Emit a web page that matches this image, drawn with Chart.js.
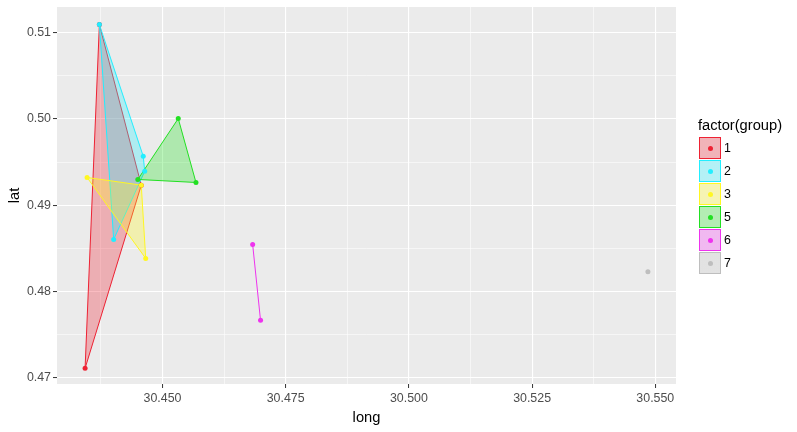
<!DOCTYPE html>
<html>
<head>
<meta charset="utf-8">
<script src="https://cdn.jsdelivr.net/npm/chart.js@4.4.1/dist/chart.umd.min.js"></script>
<style>
  html, body { margin: 0; padding: 0; background: #ffffff; }
  #wrap { position: relative; width: 797px; height: 432px; }
  #c { position: absolute; left: 0; top: 0; }
  .lg { position: absolute; font-family: 'Liberation Sans', Arial, sans-serif; color: #000; white-space: nowrap; }
  .key { position: absolute; box-sizing: border-box; width: 22px; height: 22px; border: 1px solid; }
  .dot { position: absolute; width: 5px; height: 5px; border-radius: 50%; left: 7.5px; top: 7.5px; }
</style>
</head>
<body>
<div id="wrap">
  <canvas id="c" width="797" height="432"></canvas>
  <div id="legend"></div>
</div>
<script>
// ---- data ----
const groups = ['1', '2', '3', '5', '6', '7'];
const groupColors = ['#EE2233', '#22EEFF', '#FFF722', '#22E022', '#EE33EE', '#BEBEBE'];

// polygon vertices per group, in path order (long = x, lat = y)
const long1 = [30.4372, 30.4343, 30.4457];
const lat1  = [0.51093, 0.47109, 0.49232];
const long2 = [30.4372, 30.4461, 30.4464, 30.4401];
const lat2  = [0.51093, 0.49567, 0.49393, 0.48603];
const long3 = [30.4347, 30.4457, 30.4466];
const lat3  = [0.49321, 0.49232, 0.48383];
const long5 = [30.4450, 30.4532, 30.4568];
const lat5  = [0.49298, 0.50004, 0.49263];
const long6 = [30.4683, 30.4699];
const lat6  = [0.48545, 0.47665];
const long7 = [30.5485];
const lat7  = [0.48228];

const xMajorTicks = [30.450, 30.475, 30.500, 30.525, 30.550];
const xMinorTicks = [30.4375, 30.4625, 30.4875, 30.5125, 30.5375];
const yMajorTicks = [0.47, 0.48, 0.49, 0.50, 0.51];
const yMinorTicks = [0.475, 0.485, 0.495, 0.505];
const xRange = [30.4286, 30.5542];
const yRange = [0.46927, 0.51297];

// ---- build datasets ----
const longs = [long1, long2, long3, long5, long6, long7];
const lats  = [lat1, lat2, lat3, lat5, lat6, lat7];

function rgba(hex, a) {
  const n = parseInt(hex.slice(1), 16);
  return 'rgba(' + ((n >> 16) & 255) + ',' + ((n >> 8) & 255) + ',' + (n & 255) + ',' + a + ')';
}
function pts(i, close) {
  const p = longs[i].map((x, k) => ({ x: x, y: lats[i][k] }));
  if (close && p.length > 2) p.push(p[0]);
  return p;
}

const datasets = [];
// points (drawn on top: earlier datasets are drawn last)
for (let i = groups.length - 1; i >= 0; i--) {
  datasets.push({
    label: 'pts' + groups[i],
    data: pts(i, false),
    showLine: false,
    pointRadius: 2.5,
    pointBorderWidth: 0,
    pointBackgroundColor: groupColors[i],
    pointHoverRadius: 2.5,
    fill: false
  });
}
// polygons: group 1 drawn first (so last in array)
for (let i = groups.length - 1; i >= 0; i--) {
  datasets.push({
    label: 'poly' + groups[i],
    data: pts(i, true),
    showLine: true,
    borderColor: groupColors[i],
    borderWidth: 1,
    backgroundColor: rgba(groupColors[i], 0.3),
    fill: 'shape',
    tension: 0,
    pointRadius: 0,
    pointHoverRadius: 0
  });
}

const FONT = "'Liberation Sans', Arial, sans-serif";
function near(v, arr) { return arr.some(a => Math.abs(a - v) < 1e-7); }

const bgPlugin = {
  id: 'panelBg',
  beforeDraw(chart) {
    const { ctx, chartArea: a } = chart;
    ctx.save();
    ctx.fillStyle = '#ffffff';
    ctx.fillRect(0, 0, chart.width, chart.height);
    ctx.fillStyle = '#EBEBEB';
    ctx.fillRect(a.left, a.top, a.right - a.left, a.bottom - a.top);
    ctx.restore();
  }
};

function axis(major, minor, range, digits, titleText, isX) {
  return {
    type: 'linear',
    position: isX ? 'bottom' : 'left',
    min: range[0],
    max: range[1],
    afterBuildTicks(scale) {
      scale.ticks = major.concat(minor).sort((a, b) => a - b).map(v => ({ value: v }));
    },
    afterFit(scale) {
      if (isX) scale.height = 48; else scale.width = 57;
      scale.paddingTop = 0; scale.paddingBottom = 0;
      scale.paddingLeft = 0; scale.paddingRight = 0;
    },
    border: { display: false },
    grid: {
      color: '#ffffff',
      lineWidth: (c) => (c.tick && near(c.tick.value, major)) ? 1.1 : 0.55,
      drawTicks: true,
      tickLength: 4,
      tickWidth: 1,
      tickColor: (c) => (c.tick && near(c.tick.value, major)) ? '#333333' : 'rgba(0,0,0,0)'
    },
    ticks: {
      autoSkip: false,
      maxRotation: 0,
      minRotation: 0,
      padding: isX ? 3 : 2,
      color: '#4D4D4D',
      font: { family: FONT, size: 12.4 },
      callback: (v) => near(v, major) ? Number(v).toFixed(digits) : ''
    },
    title: {
      display: true,
      text: titleText,
      color: '#000000',
      font: { family: FONT, size: 14.7 },
      padding: isX ? { top: 0, bottom: 5 } : { top: 6, bottom: 0 }
    }
  };
}

new Chart(document.getElementById('c'), {
  type: 'line',
  data: { datasets: datasets },
  options: {
    responsive: false,
    animation: false,
    devicePixelRatio: 1,
    layout: { padding: { left: 0, top: 7, right: 121, bottom: 0 } },
    plugins: { legend: { display: false }, tooltip: { enabled: false } },
    events: [],
    scales: {
      x: axis(xMajorTicks, xMinorTicks, xRange, 3, 'long', true),
      y: axis(yMajorTicks, yMinorTicks, yRange, 2, 'lat', false)
    }
  },
  plugins: [bgPlugin]
});

// ---- HTML legend ----
const lg = document.getElementById('legend');
const title = document.createElement('div');
title.className = 'lg';
title.style.left = '698px';
title.style.top = '118px';
title.style.fontSize = '14.7px';
title.style.lineHeight = '14.7px';
title.textContent = 'factor(group)';
lg.appendChild(title);
groups.forEach((g, i) => {
  const top = 137.3 + 23 * i;
  const key = document.createElement('div');
  key.className = 'key';
  key.style.left = '699px';
  key.style.top = top + 'px';
  key.style.borderColor = groupColors[i];
  key.style.background = 'linear-gradient(' + rgba(groupColors[i], 0.3) + ',' + rgba(groupColors[i], 0.3) + '), #F2F2F2';
  const dot = document.createElement('div');
  dot.className = 'dot';
  dot.style.background = groupColors[i];
  key.appendChild(dot);
  lg.appendChild(key);
  const lab = document.createElement('div');
  lab.className = 'lg';
  lab.style.left = '724px';
  lab.style.top = top + 'px';
  lab.style.fontSize = '12.4px';
  lab.style.lineHeight = '22px';
  lab.textContent = g;
  lg.appendChild(lab);
});
</script>
</body>
</html>
